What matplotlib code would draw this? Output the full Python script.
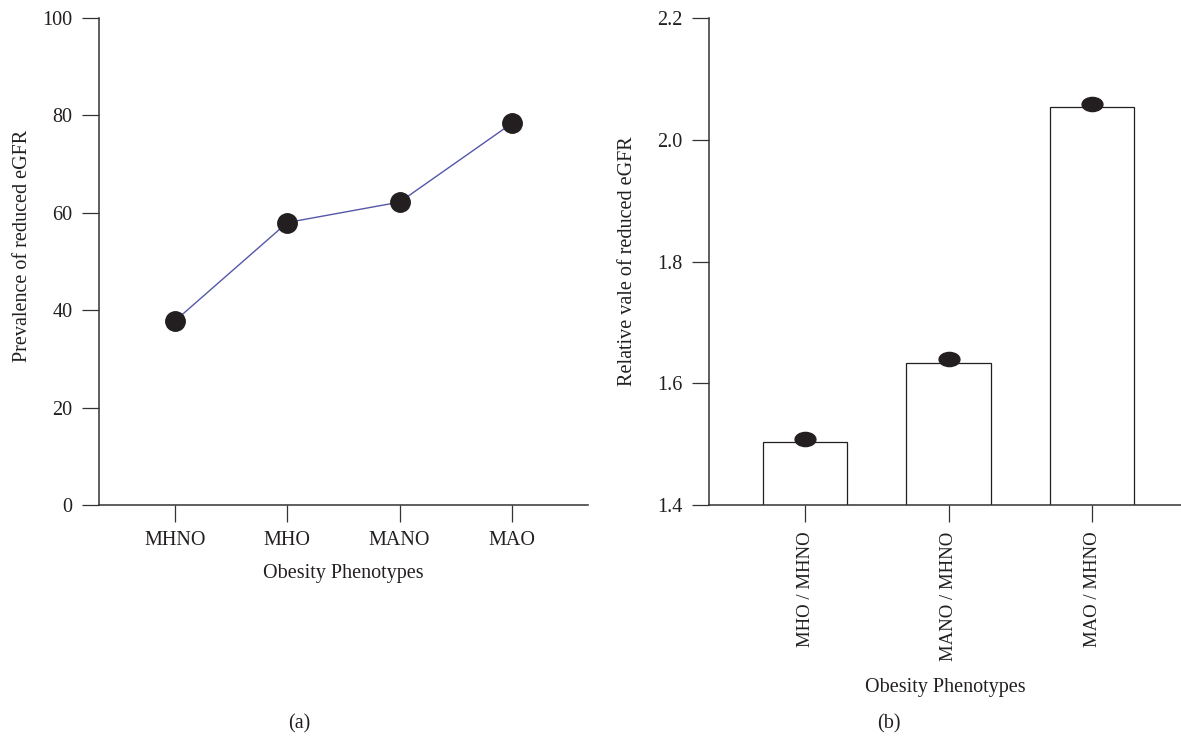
import matplotlib
matplotlib.use("Agg")
import matplotlib.pyplot as plt
from matplotlib.path import Path
from matplotlib.transforms import Affine2D

# data
phenotypes = ['MHNO', 'MHO', 'MANO', 'MAO']
prevalence = [37.8, 58.0, 62.2, 78.4]

ratio_labels = ['MHO / MHNO', 'MANO / MHNO', 'MAO / MHNO']
ratio_bars = [1.503, 1.634, 2.053]
ratio_dots = [1.509, 1.640, 2.059]

ink = '#231f20'
line_blue = '#5457a8'
fs = 14.5

plt.rcParams['font.family'] = ['Liberation Serif', 'DejaVu Serif']
plt.rcParams['text.color'] = ink
plt.rcParams['axes.labelcolor'] = ink
plt.rcParams['xtick.color'] = ink
plt.rcParams['ytick.color'] = ink

fig = plt.figure(figsize=(11.81, 7.52), dpi=100)


def style_axes(ax):
    for side in ['top', 'right']:
        ax.spines[side].set_visible(False)
    for side in ['left', 'bottom']:
        ax.spines[side].set_color('#333333')
        ax.spines[side].set_linewidth(1.1)
    ax.tick_params(direction='out', length=12, width=0.9, pad=7,
                   labelsize=fs, color='#333333')


# (a) prevalence line chart
ax1 = fig.add_axes([99 / 1181, 1 - 505 / 752, 489 / 1181, 487 / 752])
xs = list(range(len(phenotypes)))
ax1.plot(xs, prevalence, color=line_blue, lw=1.0, zorder=2)
ax1.plot(xs, prevalence, ls='none', marker='o', ms=14, color=ink, zorder=3,
         clip_on=False)
ax1.set_xlim(-0.676, 3.676)
ax1.set_ylim(0, 100)
ax1.set_yticks([0, 20, 40, 60, 80, 100])
ax1.set_xticks(xs)
ax1.set_xticklabels(phenotypes)
style_axes(ax1)
ax1.set_ylabel('Prevalence of reduced eGFR', fontsize=fs)
ax1.yaxis.set_label_coords(-0.137, 0.532)
ax1.set_xlabel('Obesity Phenotypes', fontsize=fs)
ax1.xaxis.label.set_va('center')
ax1.xaxis.set_label_coords(0.5, -0.14)

# (b) relative value bar chart
ax2 = fig.add_axes([709 / 1181, 1 - 505 / 752, 472 / 1181, 487 / 752])
xb = list(range(len(ratio_labels)))
ax2.bar(xb, ratio_bars, width=0.59, bottom=0, color='white', edgecolor=ink,
        linewidth=0.9, zorder=2)
ellipse = Affine2D().scale(1.0, 0.68).transform_path(Path.unit_circle())
ax2.plot(xb, ratio_dots, ls='none', marker=ellipse, ms=15, color=ink,
         zorder=3, clip_on=False)
ax2.set_xlim(-0.67, 2.62)
ax2.set_ylim(1.4, 2.2)
ax2.set_yticks([1.4, 1.6, 1.8, 2.0, 2.2])
ax2.set_yticklabels(['1.4', '1.6', '1.8', '2.0', '2.2'])
ax2.set_xticks(xb)
ax2.set_xticklabels(ratio_labels, rotation=90)
style_axes(ax2)
ax2.tick_params(axis='x', labelsize=13.5)
ax2.set_ylabel('Relative vale of reduced eGFR', fontsize=fs)
ax2.yaxis.set_label_coords(-0.153, 0.5)
ax2.set_xlabel('Obesity Phenotypes', fontsize=fs)
ax2.xaxis.label.set_va('center')
ax2.xaxis.set_label_coords(0.5, -0.375)

# panel captions
fig.text(299 / 1181, 1 - 724 / 752, '(a)', ha='center', va='center', fontsize=fs)
fig.text(889 / 1181, 1 - 724 / 752, '(b)', ha='center', va='center', fontsize=fs)

fig.savefig('out.png', dpi=100)
